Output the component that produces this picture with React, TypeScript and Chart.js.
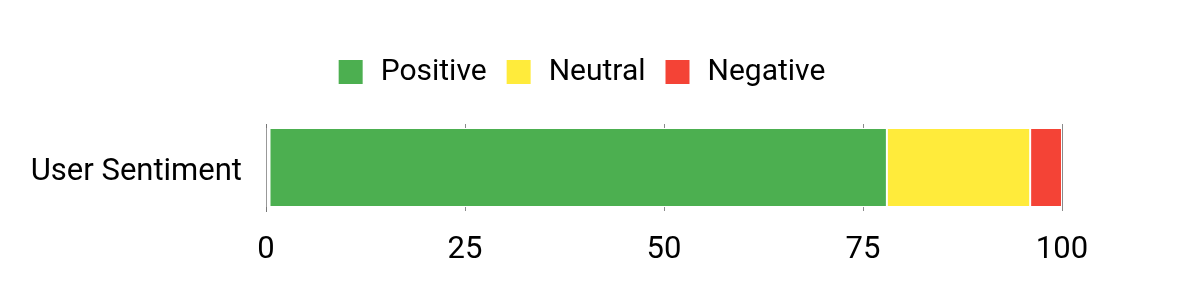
import React, { useEffect, useRef } from "react";
import { Chart, registerables } from "chart.js";

Chart.register(...registerables);

const categories = ["User Sentiment"];
const seriesNames = ["Positive", "Neutral", "Negative"];
const positiveValues = [78];
const neutralValues = [18];
const negativeValues = [4];
const seriesColors = ["#4CAF50", "#FFEB3B", "#F44336"];
const xTicks = [0, 25, 50, 75, 100];

export default function App() {
  const ref = useRef<HTMLCanvasElement | null>(null);
  useEffect(() => {
    if (!ref.current) return;
    const legendFont = { family: "Roboto", size: 30 };
    const tickFont = { family: "Roboto", size: 31 };
    const values = [positiveValues, neutralValues, negativeValues];
    const chart = new Chart(ref.current, {
      type: "bar",
      data: {
        labels: categories,
        datasets: seriesNames.map((name, i) => ({
          label: name,
          data: values[i],
          backgroundColor: seriesColors[i],
          borderColor: "#ffffff",
          borderWidth: i === 0 ? { left: 4, right: 1, top: 1, bottom: 1 } : { left: 1, right: 1, top: 1, bottom: 1 },
          borderSkipped: false,
          barPercentage: 0.95,
          categoryPercentage: 0.955,
        })),
      },
      options: {
        indexAxis: "y",
        animation: false,
        responsive: true,
        maintainAspectRatio: false,
        layout: { padding: { left: 14, right: 53, top: 40, bottom: 0 } },
        plugins: {
          legend: {
            position: "top",
            labels: {
              font: legendFont,
              color: "#000",
              boxWidth: 30,
              boxHeight: 30,
              padding: 17,
              generateLabels: (c: any) =>
                c.data.datasets.map((ds: any, i: number) => ({
                  text: ds.label,
                  fillStyle: ds.backgroundColor,
                  strokeStyle: "#ffffff",
                  lineWidth: 6,
                  hidden: false,
                  datasetIndex: i,
                  fontColor: "#000",
                })),
            },
          },
          tooltip: { enabled: false },
        },
        scales: {
          x: {
            stacked: true,
            min: 0,
            max: 100,
            afterBuildTicks: (axis: any) => {
              axis.ticks = xTicks.map((v) => ({ value: v }));
            },
            afterFit: (s: any) => {
              s.height = 89;
            },
            ticks: { font: tickFont, color: "#000", padding: 21 },
            grid: { color: "#8a8a8a", drawTicks: false, lineWidth: 1 },
            border: { display: false },
          },
          xTop: {
            type: "linear",
            axis: "x",
            position: "top",
            display: true,
            ticks: { display: false },
            grid: { display: false, drawTicks: false },
            border: { display: false },
            afterFit: (s: any) => {
              s.height = 27;
            },
          },
          y: {
            stacked: true,
            ticks: { font: tickFont, color: "#000", padding: 24, labelOffset: 5 },
            grid: { display: false, drawTicks: false },
            border: { display: true, color: "#777", width: 1 },
            afterFit: (s: any) => {
              s.width = 252;
            },
          },
          yRight: {
            type: "linear",
            axis: "y",
            position: "right",
            display: true,
            ticks: { display: false },
            grid: { display: false, drawTicks: false },
            border: { display: false },
            afterFit: (s: any) => {
              s.width = 85;
            },
          },
        },
      },
    });
    return () => chart.destroy();
  }, []);
  return (
    <div style={{ position: "fixed", left: 0, top: 0, width: 1200, height: 300, background: "#fff" }}>
      <canvas ref={ref} />
    </div>
  );
}
